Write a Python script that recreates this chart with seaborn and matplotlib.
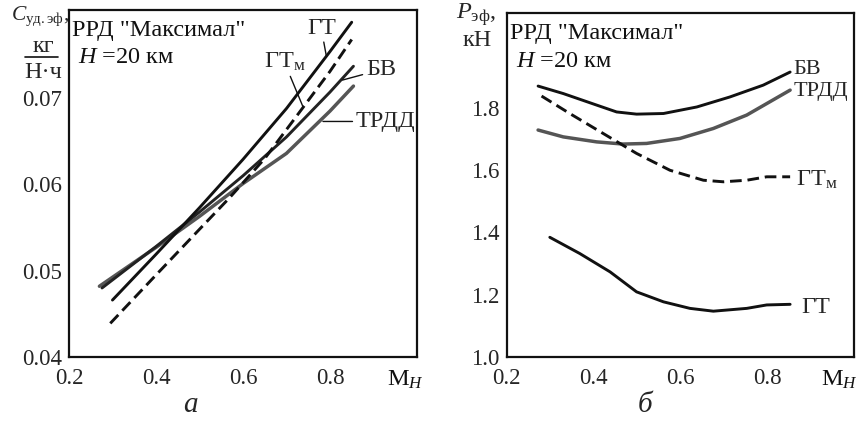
import matplotlib
matplotlib.use('Agg')
import matplotlib.pyplot as plt
import seaborn as sns
from matplotlib.lines import Line2D

# --- panel а: specific fuel consumption vs flight Mach number
mach_gt_a = [0.30, 0.40, 0.50, 0.60, 0.70, 0.80, 0.85]
cud_gt = [0.0466, 0.0519, 0.0573, 0.0629, 0.0688, 0.0754, 0.0788]
mach_gtm_a = [0.295, 0.40, 0.50, 0.57, 0.65, 0.72, 0.80, 0.85]
cud_gtm = [0.0439, 0.0495, 0.0548, 0.0585, 0.0630, 0.0677, 0.0731, 0.0768]
mach_bv_a = [0.276, 0.40, 0.50, 0.60, 0.70, 0.80, 0.854]
cud_bv = [0.0480, 0.0528, 0.0568, 0.0610, 0.0655, 0.0707, 0.0737]
mach_trdd_a = [0.27, 0.40, 0.50, 0.60, 0.70, 0.80, 0.854]
cud_trdd = [0.0482, 0.0527, 0.0563, 0.0601, 0.0636, 0.0685, 0.0714]

# --- panel б: effective thrust vs flight Mach number
mach_bv_b = [0.272, 0.330, 0.407, 0.453, 0.499, 0.561, 0.638, 0.714, 0.791, 0.853]
p_bv = [1.869, 1.845, 1.808, 1.786, 1.779, 1.781, 1.802, 1.834, 1.872, 1.914]
mach_trdd_b = [0.272, 0.330, 0.407, 0.468, 0.522, 0.599, 0.676, 0.753, 0.853]
p_trdd = [1.728, 1.706, 1.690, 1.683, 1.685, 1.701, 1.733, 1.776, 1.856]
mach_gtm_b = [0.280, 0.345, 0.422, 0.499, 0.576, 0.653, 0.699, 0.753, 0.799, 0.853]
p_gtm = [1.837, 1.781, 1.717, 1.653, 1.599, 1.567, 1.562, 1.567, 1.578, 1.578]
mach_gt_b = [0.299, 0.368, 0.438, 0.499, 0.561, 0.622, 0.676, 0.753, 0.799, 0.853]
p_gt = [1.384, 1.332, 1.273, 1.209, 1.177, 1.156, 1.147, 1.156, 1.167, 1.169]

xticks = [0.2, 0.4, 0.6, 0.8]
yticks_a = [0.04, 0.05, 0.06, 0.07]
yticks_b = [1.0, 1.2, 1.4, 1.6, 1.8]

sns.set_theme(style='white')
plt.rcParams['font.family'] = ['Liberation Serif', 'DejaVu Serif']
plt.rcParams['mathtext.fontset'] = 'custom'
plt.rcParams['mathtext.rm'] = 'Liberation Serif'
plt.rcParams['mathtext.it'] = 'Liberation Serif:italic'

BLACK = '#111111'
GRAY = '#555555'
FS = 16.5    # tick labels
FT = 17.5    # texts inside the plots
FL = 16      # curve labels, right panel

fig = plt.figure(figsize=(8.62, 4.23), dpi=100)
ax1 = fig.add_axes([0.080, 0.156, 0.4037, 0.820])
ax2 = fig.add_axes([0.588, 0.156, 0.4026, 0.813])

lw = 2.1
sns.lineplot(x=mach_trdd_a, y=cud_trdd, ax=ax1, color=GRAY, linewidth=2.5)
sns.lineplot(x=mach_bv_a, y=cud_bv, ax=ax1, color='#222222', linewidth=lw)
sns.lineplot(x=mach_gt_a, y=cud_gt, ax=ax1, color=BLACK, linewidth=lw)
sns.lineplot(x=mach_gtm_a, y=cud_gtm, ax=ax1, color=BLACK, linewidth=lw,
             linestyle=(0, (4, 2)))

sns.lineplot(x=mach_trdd_b, y=p_trdd, ax=ax2, color=GRAY, linewidth=2.5)
sns.lineplot(x=mach_bv_b, y=p_bv, ax=ax2, color=BLACK, linewidth=lw)
sns.lineplot(x=mach_gtm_b, y=p_gtm, ax=ax2, color=BLACK, linewidth=lw,
             linestyle=(0, (4, 2)))
sns.lineplot(x=mach_gt_b, y=p_gt, ax=ax2, color=BLACK, linewidth=lw)

for ax, yt, ylim, fmt, y_top, y_h in [(ax1, yticks_a, (0.04, 0.0802), '{:.2f}', 0.972, 0.895),
                                      (ax2, yticks_b, (1.0, 2.103), '{:.1f}', 0.970, 0.890)]:
    ax.set_xlim(0.2, 1.0)
    ax.set_ylim(*ylim)
    ax.set_xticks(xticks)
    ax.set_xticklabels([f'{v:.1f}' for v in xticks], fontsize=FS)
    ax.set_yticks(yt)
    ax.set_yticklabels([fmt.format(v) for v in yt], fontsize=FS)
    ax.tick_params(length=0, pad=5)
    ax.tick_params(axis='x', pad=8)
    ax.set_xlabel('')
    ax.set_ylabel('')
    for sp in ax.spines.values():
        sp.set_color(BLACK)
        sp.set_linewidth(1.6)
    ax.text(0.01, y_top, 'РРД "Максимал"', transform=ax.transAxes,
            fontsize=FT, ha='left', va='top', color=BLACK)
    ax.text(0.025, y_h, '$H$ =20 км', transform=ax.transAxes,
            fontsize=FT, ha='left', va='top', color=BLACK)

ax1.text(0.966, -0.066, 'M$_{\\mathit{H}}$', transform=ax1.transAxes, fontsize=FT,
         ha='center', va='center', color=BLACK)
ax2.text(0.957, -0.066, 'M$_{\\mathit{H}}$', transform=ax2.transAxes, fontsize=FT,
         ha='center', va='center', color=BLACK)

# curve labels, panel а
arrow = dict(arrowstyle='-', color=BLACK, lw=1.0, shrinkA=0, shrinkB=0)
ax1.annotate('ГТ', xy=(0.792, 0.0748), xytext=(0.780, 0.0781), fontsize=FT,
             ha='center', va='center', arrowprops=arrow)
ax1.annotate('ГТ$_{\\mathrm{м}}$', xy=(0.738, 0.0690), xytext=(0.695, 0.0742), fontsize=FT,
             ha='center', va='center', arrowprops=arrow)
ax1.annotate('БВ', xy=(0.829, 0.0721), xytext=(0.917, 0.0733), fontsize=FT,
             ha='center', va='center', arrowprops=arrow)
ax1.annotate('ТРДД', xy=(0.784, 0.0673), xytext=(0.928, 0.0673), fontsize=FT,
             ha='center', va='center', arrowprops=arrow)

# curve labels, panel б
ax2.text(0.860, 1.922, 'БВ', fontsize=FL, ha='left', va='center')
ax2.text(0.860, 1.850, 'ТРДД', fontsize=FL, ha='left', va='center')
ax2.text(0.866, 1.567, 'ГТ$_{\\mathrm{м}}$', fontsize=FT, ha='left', va='center')
ax2.text(0.878, 1.160, 'ГТ', fontsize=FT, ha='left', va='center')

W, H = 862, 423
def fx(px):
    return px / W
def fy(py):
    return 1 - py / H

# y axis titles
fig.text(fx(11), fy(16), '$C_{\\mathrm{уд.эф}}$,', fontsize=15.5, ha='left', va='center')
fig.text(fx(43), fy(46), 'кг', fontsize=FT, ha='center', va='center')
fig.add_artist(Line2D([fx(25), fx(58)], [fy(57), fy(57)], color=BLACK, lw=1.2))
fig.text(fx(43), fy(73), 'Н·ч', fontsize=FT, ha='center', va='center')

fig.text(fx(456), fy(15), '$P_{\\mathrm{эф}}$,', fontsize=FT, ha='left', va='center')
fig.text(fx(477), fy(40), 'кН', fontsize=FT, ha='center', va='center')

# panel letters
fig.text(fx(190), fy(405), 'а', fontsize=21, style='italic', ha='center', va='center')
fig.text(fx(645), fy(405), 'б', fontsize=21, style='italic', ha='center', va='center')

fig.savefig('out.png', dpi=100)
